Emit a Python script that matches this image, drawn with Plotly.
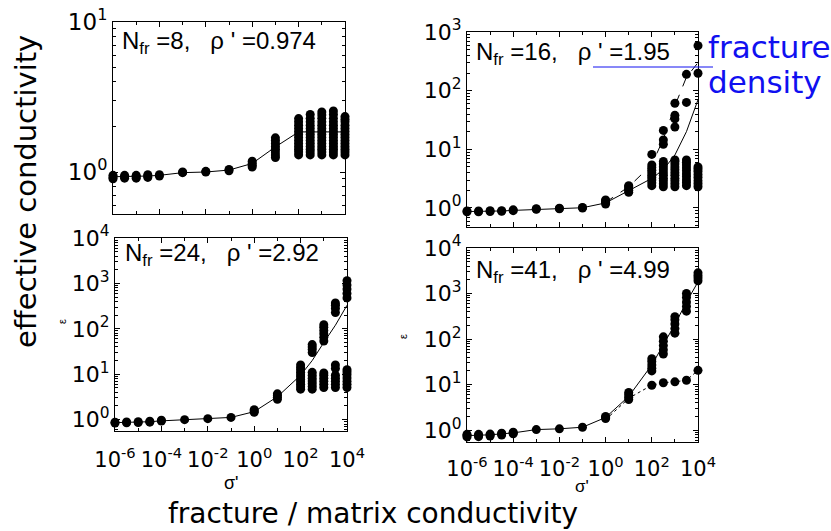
import math
import plotly.graph_objects as go

W, H = 831, 531

# ---------------- data ----------------
sigma = [1e-6, 10**-5.5, 1e-5, 10**-4.5, 1e-4, 1e-3, 1e-2, 1e-1, 1.0, 10.0,
         100.0, 10**2.5, 1e3, 10**3.5, 1e4]

p1_label = "N<sub>fr</sub> =8,\u00a0\u00a0\u00a0ρ ' =0.974"
p1_points = [
    [0.90, 0.92, 0.95], [0.91, 0.93, 0.95], [0.91, 0.93, 0.95], [0.92, 0.94, 0.96],
    [0.94, 0.96], [0.99, 1.0], [1.0, 1.01], [1.02, 1.04],
    [1.08, 1.11, 1.14, 1.18],
    [1.25, 1.30, 1.36, 1.42, 1.48, 1.55, 1.62, 1.69],
    [1.30, 1.36, 1.42, 1.48, 1.55, 1.62, 1.70, 1.78, 1.86, 1.95, 2.05, 2.16, 2.27],
    [1.30, 1.36, 1.42, 1.48, 1.55, 1.62, 1.70, 1.78, 1.86, 1.95, 2.05, 2.16, 2.28, 2.42],
    [1.30, 1.36, 1.42, 1.48, 1.55, 1.62, 1.70, 1.78, 1.86, 1.95, 2.05, 2.16, 2.28, 2.40, 2.51],
    [1.30, 1.36, 1.42, 1.48, 1.55, 1.62, 1.70, 1.78, 1.86, 1.95, 2.05, 2.16, 2.28, 2.42, 2.55],
    [1.30, 1.36, 1.42, 1.48, 1.55, 1.62, 1.70, 1.78, 1.86, 1.95, 2.05, 2.16, 2.25, 2.34],
]
p1_line = [0.93, 0.93, 0.93, 0.94, 0.95, 0.99, 1.0, 1.03, 1.14, 1.47, 1.85, 1.85, 1.85, 1.85, 1.85]

p2_label = "N<sub>fr</sub> =16,\u00a0\u00a0\u00a0ρ ' =1.95"
p2_points = [
    [0.86, 0.89], [0.86, 0.89], [0.87, 0.90], [0.88, 0.90], [0.90, 0.93],
    [0.95, 0.97], [0.97, 0.99], [1.00, 1.02],
    [1.17, 1.25, 1.32, 1.37],
    [1.85, 2.0, 2.15, 2.3, 2.4],
    [2.4, 2.7, 3.0, 3.3, 3.6, 4.0, 4.4, 4.9, 5.4, 8.2],
    [2.3, 2.6, 2.9, 3.2, 3.6, 4.0, 4.5, 5.0, 5.6, 6.2, 12.2, 14.4, 21],
    [2.3, 2.6, 2.9, 3.2, 3.6, 4.0, 4.5, 5.0, 5.6, 6.2, 6.6, 24, 33, 38, 61],
    [2.4, 2.7, 3.0, 3.4, 3.8, 4.3, 4.8, 5.4, 6.0, 6.6, 63, 190],
    [2.3, 2.6, 2.9, 3.3, 3.7, 4.2, 4.6, 5.0, 198, 585],
]
p2_line = [0.87, 0.87, 0.88, 0.89, 0.91, 0.95, 0.98, 1.01, 1.22, 2.0, 3.2, 4.5, 8, 20, 70]
p2_dash_x = [1.0, 10.0, 100.0, 10**2.5, 1e3, 10**3.5, 1e4]
p2_dash_y = [1.25, 2.3, 5.5, 15, 55, 170, 300]

p3_label = "N<sub>fr</sub> =24,\u00a0\u00a0\u00a0ρ ' =2.92"
p3_points = [
    [0.84, 0.88], [0.85, 0.89], [0.86, 0.90], [0.88, 0.92], [0.93, 0.97],
    [1.0], [1.05], [1.12],
    [1.45, 1.55, 1.65],
    [2.8, 3.1, 3.4, 3.7],
    [4.7, 5.3, 6.0, 6.8, 7.7, 8.7, 9.8, 11, 12.5, 14, 16],
    [4.7, 5.4, 6.2, 7.1, 8.2, 9.5, 11, 30, 35, 40, 45],
    [5.1, 6.0, 7.0, 8.2, 9.5, 10.7, 54, 65, 78, 92, 108, 123],
    [5.1, 6.0, 7.0, 8.2, 9.5, 13.3, 16, 228, 280, 330, 372],
    [5.1, 6.0, 7.0, 8.3, 9.8, 11.2, 12.6, 480, 600, 750, 920, 1150],
]
p3_line = [0.86, 0.87, 0.88, 0.90, 0.94, 1.0, 1.05, 1.12, 1.5, 3.2, 9.5, 20, 50, 120, 330]

p4_label = "N<sub>fr</sub> =41,\u00a0\u00a0\u00a0ρ ' =4.99"
p4_points = [
    [0.71, 0.76, 0.81], [0.72, 0.77, 0.81], [0.74, 0.79, 0.82], [0.78, 0.83, 0.86],
    [0.83, 0.87, 0.90], [1.03], [1.07], [1.16],
    [1.8, 1.9, 2.0],
    [4.7, 5.3, 6.0, 6.7],
    [9.7, 20, 23, 27, 32, 37],
    [11, 47, 58, 72, 90, 112],
    [11.5, 135, 170, 215, 265, 310],
    [12.5, 410, 520, 650, 820, 1000],
    [20.6, 1900, 2200, 2500, 2850],
]
p4_line = [0.76, 0.77, 0.79, 0.83, 0.87, 1.03, 1.07, 1.16, 1.9, 5.5, 27, 75, 210, 650, 1800]
p4_dot_x = [1.0, 10.0, 10**1.5, 100.0, 10**2.5, 1e3, 10**3.5, 1e4]
p4_dot_y = [1.7, 5.0, 7.0, 9.7, 11, 11.5, 12.5, 20.6]

x_tickvals = [1e-6, 1e-4, 1e-2, 1, 1e2, 1e4]
x_ticktext = ["10<sup>-6</sup>", "10<sup>-4</sup>", "10<sup>-2</sup>",
              "10<sup>0</sup>", "10<sup>2</sup>", "10<sup>4</sup>"]

# ---------------- layout geometry (pixels) ----------------
# (left, right, top, bottom, ymin_log, ymax_log, show_xlabels, x standoff, ytick size)
panels = [
    (113, 345, 22, 214, -0.28, 1.0, False, 0, 23),
    (467, 698, 32, 227, -0.324, 3.0, False, 0, 22),
    (115, 347, 238, 431, -0.25, 4.0, True, 10, 22),
    (467, 698, 248, 442, -0.26, 4.0, True, 8, 22),
]

fig = go.Figure()
FONT = "Liberation Sans, Arial, sans-serif"
TICKFONT = "DejaVu Sans"


def flat(points):
    xs, ys = [], []
    for sx, col in zip(sigma, points):
        for v in col:
            xs.append(sx)
            ys.append(v)
    return xs, ys


data = [(p1_points, p1_line, p1_label), (p2_points, p2_line, p2_label),
        (p3_points, p3_line, p3_label), (p4_points, p4_line, p4_label)]

for i, ((pts, line, lab), (l, r, t, b, y0, y1, showx, xso, ysz)) in enumerate(zip(data, panels)):
    n = i + 1
    xa = "x" if n == 1 else f"x{n}"
    ya = "y" if n == 1 else f"y{n}"
    fig.add_trace(go.Scatter(x=sigma, y=line, mode="lines", xaxis=xa, yaxis=ya,
                             line=dict(color="black", width=1), showlegend=False,
                             cliponaxis=False))
    xs, ys = flat(pts)
    fig.add_trace(go.Scatter(x=xs, y=ys, mode="markers", xaxis=xa, yaxis=ya,
                             marker=dict(color="black", size=9, line=dict(width=0)),
                             showlegend=False, cliponaxis=False))
    top = int(round(y1))
    yt = [10**k for k in range(0, top + 1)]
    ytt = [f"10<sup>{k}</sup>" for k in range(0, top + 1)]
    yminor = [m * 10**k for k in range(-1, top + 1) for m in range(2, 10)
              if y0 <= math.log10(m * 10**k) <= y1]
    xminor = [10**k for k in range(-5, 4, 2)]
    xkey = "xaxis" if n == 1 else f"xaxis{n}"
    ykey = "yaxis" if n == 1 else f"yaxis{n}"
    fig.layout[xkey] = dict(
        type="log", range=[-6, 4], domain=[l / W, r / W], anchor=ya, automargin=False,
        showline=True, linecolor="black", linewidth=1, mirror="allticks",
        ticks="inside", ticklen=5, tickcolor="black", showgrid=False, zeroline=False,
        tickmode="array", tickvals=x_tickvals, ticktext=x_ticktext,
        showticklabels=showx, ticklabelstandoff=xso,
        tickfont=dict(family=TICKFONT, size=21, color="black"),
        minor=dict(ticks="inside", ticklen=3, tickcolor="black", tickmode="array",
                   tickvals=xminor, showgrid=False),
    )
    fig.layout[ykey] = dict(
        type="log", range=[y0, y1], domain=[1 - b / H, 1 - t / H], anchor=xa, automargin=False,
        showline=True, linecolor="black", linewidth=1, mirror="allticks",
        ticks="inside", ticklen=5, tickcolor="black", showgrid=False, zeroline=False,
        tickmode="array", tickvals=yt, ticktext=ytt,
        tickfont=dict(family=TICKFONT, size=ysz, color="black"),
        minor=dict(ticks="inside", ticklen=3, tickcolor="black", tickmode="array",
                   tickvals=yminor, showgrid=False),
    )

fig.add_trace(go.Scatter(x=p2_dash_x, y=p2_dash_y, mode="lines", xaxis="x2", yaxis="y2",
                         line=dict(color="black", width=1, dash="dash"), showlegend=False))
fig.add_trace(go.Scatter(x=p4_dot_x, y=p4_dot_y, mode="lines", xaxis="x4", yaxis="y4",
                         line=dict(color="black", width=1, dash="dot"), showlegend=False))

ann = []
label_pos = [(120, 43), (474, 53), (123, 254), (474, 271)]
for (lx, ly), (_, _, lab) in zip(label_pos, data):
    ann.append(dict(text=lab, x=lx / W, y=1 - ly / H, xref="paper", yref="paper",
                    xanchor="left", yanchor="middle", showarrow=False,
                    font=dict(family=FONT, size=24, color="black")))


def note(text, x, y, size, family=FONT, color="black", angle=0, xanchor="center"):
    ann.append(dict(text=text, x=x / W, y=1 - y / H, xref="paper", yref="paper",
                    xanchor=xanchor, yanchor="middle", showarrow=False, textangle=angle,
                    font=dict(family=family, size=size, color=color)))


note("σ'", 231, 483, 18)
note("σ'", 582, 486, 17)
note("ε", 62, 322, 11, angle=-90)
note("ε", 403, 337, 11, angle=-90)
note("fracture / matrix conductivity", 373, 513, 28, family="DejaVu Sans")
note("effective conductivity", 26, 192, 29, family="DejaVu Sans", angle=-90)
note("fracture", 706, 47, 31, family="DejaVu Sans", color="#1010f0", xanchor="left")
note("density", 706, 82, 31, family="DejaVu Sans", color="#1010f0", xanchor="left")

shapes = [dict(type="line", xref="paper", yref="paper", x0=593 / W, x1=713 / W,
               y0=1 - 67 / H, y1=1 - 67 / H, line=dict(color="#1010f0", width=1))]

fig.update_layout(width=W, height=H,
                  margin=dict(l=0, r=0, t=0, b=0, pad=0, autoexpand=False),
                  paper_bgcolor="white", plot_bgcolor="white",
                  annotations=ann, shapes=shapes, showlegend=False)

fig.write_html("out.html")
